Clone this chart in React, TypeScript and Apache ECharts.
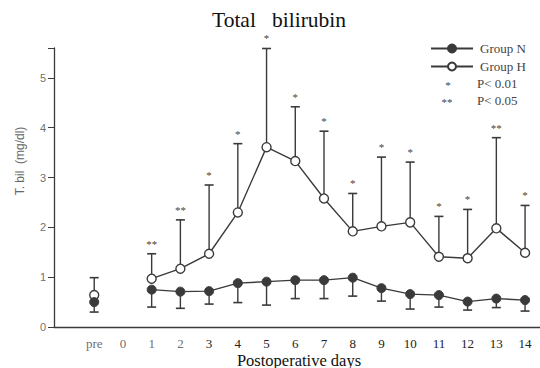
import React, { useEffect, useRef } from "react";
import * as echarts from "echarts";

// Day positions on the x axis ("pre" sits at -1, no measurement on day 0)
const dayPositions = [-1, 1, 2, 3, 4, 5, 6, 7, 8, 9, 10, 11, 12, 13, 14];
const tickValues = [-1, 0, 1, 2, 3, 4, 5, 6, 7, 8, 9, 10, 11, 12, 13, 14];
const tickLabels = ["pre", "0", "1", "2", "3", "4", "5", "6", "7", "8", "9", "10", "11", "12", "13", "14"];

// Mean total bilirubin (mg/dl)
const groupN = [0.5, 0.75, 0.71, 0.72, 0.88, 0.91, 0.94, 0.94, 0.99, 0.78, 0.66, 0.64, 0.51, 0.57, 0.54];
const groupNLower = [0.3, 0.4, 0.375, 0.46, 0.49, 0.44, 0.57, 0.57, 0.62, 0.52, 0.36, 0.4, 0.34, 0.39, 0.32];
const groupH = [0.64, 0.97, 1.17, 1.47, 2.3, 3.61, 3.33, 2.58, 1.92, 2.02, 2.1, 1.41, 1.38, 1.98, 1.49];
const groupHUpper = [0.99, 1.47, 2.15, 2.85, 3.68, 5.59, 4.42, 3.93, 2.68, 3.41, 3.31, 2.22, 2.36, 3.8, 2.44];
const significance = ["", "**", "**", "*", "*", "*", "*", "*", "*", "*", "*", "*", "*", "**", "*"];

const INK = "#3a3a3a";

function lineData(values: number[]) {
  const out: any[] = [];
  dayPositions.forEach((d, i) => {
    out.push([d, values[i]]);
    if (d === -1) out.push([0, "-"]);
  });
  return out;
}

function errorBarSeries(means: number[], ends: number[]) {
  return {
    type: "custom",
    z: 2,
    silent: true,
    data: dayPositions.map((d, i) => [d, means[i], ends[i]]),
    renderItem: (_params: any, api: any) => {
      const a = api.coord([api.value(0), api.value(1)]);
      const b = api.coord([api.value(0), api.value(2)]);
      return {
        type: "group",
        children: [
          { type: "line", shape: { x1: a[0], y1: a[1], x2: b[0], y2: b[1] }, style: { stroke: INK, lineWidth: 1.4 } },
          { type: "line", shape: { x1: b[0] - 4.5, y1: b[1], x2: b[0] + 4.5, y2: b[1] }, style: { stroke: INK, lineWidth: 1.6 } },
        ],
      };
    },
  };
}

export default function App() {
  const ref = useRef<HTMLDivElement>(null);

  useEffect(() => {
    if (!ref.current) return;
    const chart = echarts.init(ref.current, null, { renderer: "svg" });
    const serif = "'Liberation Serif', 'DejaVu Serif', serif";
    const sans = "'Liberation Sans', Arial, sans-serif";

    chart.setOption({
      animation: false,
      backgroundColor: "#ffffff",
      title: {
        text: "Total   bilirubin",
        left: 207,
        top: 4,
        textStyle: { fontFamily: serif, fontSize: 21.5, fontWeight: "normal", color: "#111" },
      },
      legend: {
        orient: "vertical",
        left: 425,
        top: 37,
        itemWidth: 42,
        itemHeight: 10,
        itemGap: 5,
        data: ["Group N", "Group H"],
        textStyle: { fontFamily: serif, fontSize: 13, color: "#444", padding: [0, 0, 0, 2] },
      },
      grid: { left: 54, right: 0, top: 48, bottom: 41, outerBoundsMode: "none" },
      xAxis: {
        type: "value",
        min: -2.4,
        max: 14.52,
        splitLine: { show: false },
        axisLine: { onZero: false, lineStyle: { color: INK, width: 1.3 } },
        axisTick: { show: false },
        axisLabel: {
          customValues: tickValues,
          margin: 9,
          fontFamily: serif,
          fontSize: 13,
          lineHeight: 14,
          color: "#222",
          formatter: (v: number) => {
            const i = tickValues.indexOf(v);
            const t = i >= 0 ? tickLabels[i] : "";
            return v <= 2 ? `{light|${t}}` : t;
          },
          rich: { light: { fontFamily: serif, fontSize: 13, lineHeight: 14, color: "#707070" } },
        },
      },
      yAxis: {
        type: "value",
        min: 0,
        max: 5.6,
        interval: 1,
        splitLine: { show: false },
        axisLine: { show: true, onZero: false, lineStyle: { color: INK, width: 1.3 } },
        axisTick: { show: true, length: 6, lineStyle: { color: INK } },
        axisLabel: {
          margin: 8,
          fontFamily: sans,
          fontSize: 11,
          color: "#707070",
          formatter: (v: number) => (Number.isInteger(v) ? String(v) : ""),
        },
      },
      graphic: [
        {
          type: "text",
          x: 299,
          y: 360,
          style: {
            text: "Postoperative days",
            fontFamily: serif,
            fontSize: 16.5,
            fill: "#111",
            textAlign: "center",
            textVerticalAlign: "middle",
          },
        },
        {
          type: "text",
          x: 20,
          y: 161,
          rotation: Math.PI / 2,
          style: {
            text: "T. bil  (mg/dl)",
            fontFamily: sans,
            fontSize: 12,
            fill: "#666",
            textAlign: "center",
            textVerticalAlign: "middle",
          },
        },
        {
          type: "text",
          x: 448,
          y: 85,
          style: { text: "*", fontFamily: serif, fontSize: 11, fill: "#444", textAlign: "center", textVerticalAlign: "middle" },
        },
        {
          type: "text",
          x: 477,
          y: 83,
          style: { text: "P< 0.01", fontFamily: serif, fontSize: 13, fill: "#444", textVerticalAlign: "middle" },
        },
        {
          type: "text",
          x: 447,
          y: 102,
          style: { text: "**", fontFamily: serif, fontSize: 11, fill: "#444", textAlign: "center", textVerticalAlign: "middle" },
        },
        {
          type: "text",
          x: 477,
          y: 100,
          style: { text: "P< 0.05", fontFamily: serif, fontSize: 13, fill: "#444", textVerticalAlign: "middle" },
        },
      ],
      series: [
        errorBarSeries(groupH, groupHUpper),
        errorBarSeries(groupN, groupNLower),
        {
          name: "Group H",
          type: "line",
          z: 3,
          data: lineData(groupH),
          symbol: "circle",
          symbolSize: 9,
          showAllSymbol: true,
          lineStyle: { color: INK, width: 1.4 },
          itemStyle: { color: "#ffffff", borderColor: INK, borderWidth: 1.4 },
        },
        {
          name: "Group N",
          type: "line",
          z: 4,
          data: lineData(groupN),
          symbol: "circle",
          symbolSize: 9,
          showAllSymbol: true,
          lineStyle: { color: INK, width: 1.4 },
          itemStyle: { color: INK, borderColor: INK, borderWidth: 1 },
        },
        {
          type: "custom",
          z: 5,
          silent: true,
          data: dayPositions.map((d, i) => [d, groupHUpper[i], significance[i]]),
          renderItem: (params: any, api: any) => {
            const p = api.coord([api.value(0), api.value(1)]);
            return {
              type: "text",
              x: p[0],
              y: p[1] - 10,
              style: {
                text: significance[params.dataIndex],
                fontFamily: serif,
                fontSize: 11,
                fill: "#444",
                textAlign: "center",
                textVerticalAlign: "middle",
              },
            };
          },
        },
      ],
    });

    return () => chart.dispose();
  }, []);

  return <div ref={ref} style={{ width: 540, height: 368, position: "absolute", left: 0, top: 0 }} />;
}
